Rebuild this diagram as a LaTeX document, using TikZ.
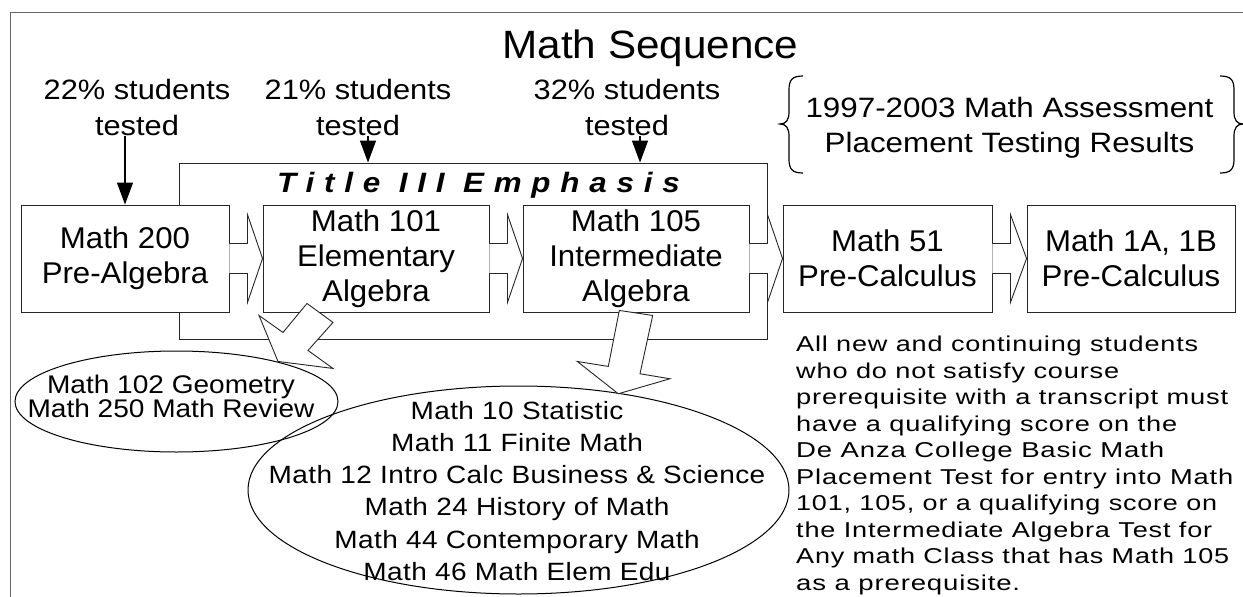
\documentclass[tikz,border=0pt]{standalone}
\usepackage{fontspec}
\usepackage{graphicx}
\setmainfont{Liberation Sans}
\newfontfamily\fcourse[FakeStretch=1.04]{Liberation Sans}
\newfontfamily\fmain[FakeStretch=1.1]{Liberation Sans}
\newfontfamily\fbrace[FakeStretch=1.12]{Liberation Sans}
\newfontfamily\ftitle[FakeStretch=1.07]{Liberation Sans}
\newfontfamily\fnote[LetterSpace=3]{Liberation Sans}
\newfontfamily\fellA[FakeStretch=1.1]{Liberation Sans}
\newfontfamily\fellB[FakeStretch=1.12,LetterSpace=1.7]{Liberation Sans}
\newfontfamily\femph[FakeStretch=1.12,LetterSpace=35]{Liberation Sans}
\newcommand\noteline[2]{\resizebox{#1pt}{\height}{#2}}
\usetikzlibrary{shapes.geometric,arrows.meta,calc}
\tikzset{
  coursebox/.style={draw=black!85,line width=0.9pt,fill=white,minimum width=208pt,minimum height=107pt,inner sep=0pt,align=center,font=\fcourse\fontsize{30}{35}\selectfont},
  txt/.style={inner sep=0pt,align=center},
  pcttxt/.style={txt,font=\fmain\fontsize{28}{35.5}\selectfont},
  blockarrow/.style={draw=black!85,line width=0.9pt,fill=white,line join=miter},
  downarrow/.style={line width=1.3pt,-{Triangle[length=22pt,width=16pt]}},
  oval/.style={ellipse,draw=black,line width=1pt,inner sep=0pt},
  bracestyle/.style={line width=1.2pt}
}
\begin{document}
\begin{tikzpicture}[x=1pt,y=-1pt]
\useasboundingbox (0,0) rectangle (1243,597);
% frame
\draw[black!60,line width=1pt] (1243,12) -- (10,12) -- (10,597);
% title
\node[txt,anchor=base,font=\ftitle\fontsize{39.5}{45}\selectfont] (title) at (650.5,58.3) {Math Sequence};
% percentages
\node[pcttxt] (p1) at (137,107.5) {22\% students\\tested};
\node[pcttxt] (p2) at (358,107.5) {21\% students\\tested};
\node[pcttxt] (p3) at (627,107.5) {32\% students\\tested};
% brace text
\node[txt,font=\fbrace\fontsize{28}{35}\selectfont] (res) at (1009.5,127.5) {1997-2003 Math Assessment\\Placement Testing Results};
\draw[bracestyle] (803,76) .. controls (792,76) and (789,80) .. (789,90) -- (789,112) .. controls (789,120) and (786,124) .. (780,124) .. controls (786,124) and (789,128) .. (789,136) -- (789,159) .. controls (789,169) and (792,173) .. (803,173);
\draw[bracestyle] (1220,76) .. controls (1231,76) and (1234,80) .. (1234,90) -- (1234,112) .. controls (1234,120) and (1237,124) .. (1243,124) .. controls (1237,124) and (1234,128) .. (1234,136) -- (1234,159) .. controls (1234,169) and (1231,173) .. (1220,173);
% Title III emphasis box
\node[draw=black!85,line width=0.9pt,minimum width=588pt,minimum height=176pt,inner sep=0pt] (em) at (473,251) {};
\node[txt,anchor=base,font=\femph\bfseries\itshape\fontsize{28}{34}\selectfont] (emtxt) at (478.5,192) {Title III Emphasis};
% course boxes
\node[coursebox] (b1) at (125,258.5) {Math 200\\Pre-Algebra};
\node[coursebox,minimum width=226pt] (b2) at (376,258.5) {Math 101\\Elementary\\Algebra};
\node[coursebox,minimum width=226pt] (b3) at (636,258.5) {Math 105\\Intermediate\\Algebra};
\node[coursebox,minimum width=209pt] (b4) at (887.5,258.5) {Math 51\\Pre-Calculus};
\node[coursebox,minimum width=208pt] (b5) at (1131,258.5) {Math 1A, 1B\\Pre-Calculus};
% right block arrows
\foreach \a/\b in {b1/b2,b2/b3,b3/b4,b4/b5}{
  \draw[blockarrow] ($(\a.east)+(0,-15)$) -- ($(\a.east)+(18,-15)$) -- ($(\a.east)+(18,-44)$) -- (\b.west) -- ($(\a.east)+(18,44)$) -- ($(\a.east)+(18,15)$) -- ($(\a.east)+(0,15)$);
}
% down arrows
\draw[downarrow] (p1.south -| b1.north) -- (b1.north);
\draw[downarrow] ([xshift=10pt]p2.south) -- ([xshift=10pt]p2.south |- em.north);
\draw[downarrow] ([xshift=13pt]p3.south) -- ([xshift=13pt]p3.south |- em.north);
% ellipses
\node[oval,minimum width=323pt,minimum height=101pt] (e1) at (176.5,401.5) {};
\node[oval,minimum width=541pt,minimum height=208pt] (e2) at (518.5,490) {};
\node[txt,font=\fellA\fontsize{25.5}{24}\selectfont] (e1t) at (171,396) {Math 102 Geometry\\Math 250 Math Review};
\node[txt,font=\fellB\fontsize{25}{32.1}\selectfont] (e2t) at (517,491) {Math 10 Statistic\\Math 11 Finite Math\\Math 12 Intro Calc Business \& Science\\Math 24 History of Math\\Math 44 Contemporary Math\\Math 46 Math Elem Edu};
% diagonal block arrows
\begin{scope}[shift={(b2.south)}]
\draw[blockarrow] (-69,-9) -- (-43,10) -- (-68,38) -- (-43,56) -- (-98,49) -- (-117,3) -- (-93,20) -- cycle;
\end{scope}
\begin{scope}[shift={(b3.south)}]
\draw[blockarrow] (-16.7,-2) -- (16.7,3) -- (4,61.3) -- (34,66.3) -- (-17.7,81.3) -- (-58.7,49) -- (-27.7,54) -- cycle;
\end{scope}
% note
\node[inner sep=0pt,align=left,anchor=north west,font=\fnote\fontsize{21.5}{26.5}\selectfont] (note) at (796,336) {\noteline{402}{All new and continuing students}\\
\noteline{323}{who do not satisfy course}\\
\noteline{432}{prerequisite with a transcript must}\\
\noteline{381}{have a qualifying score on the}\\
\noteline{368}{De Anza College Basic Math}\\
\noteline{437}{Placement Test for entry into Math}\\
\noteline{421}{101, 105, or a qualifying score on}\\
\noteline{416}{the Intermediate Algebra Test for}\\
\noteline{433}{Any math Class that has Math 105}\\
\noteline{224}{as a prerequisite.}};
\end{tikzpicture}
\end{document}
